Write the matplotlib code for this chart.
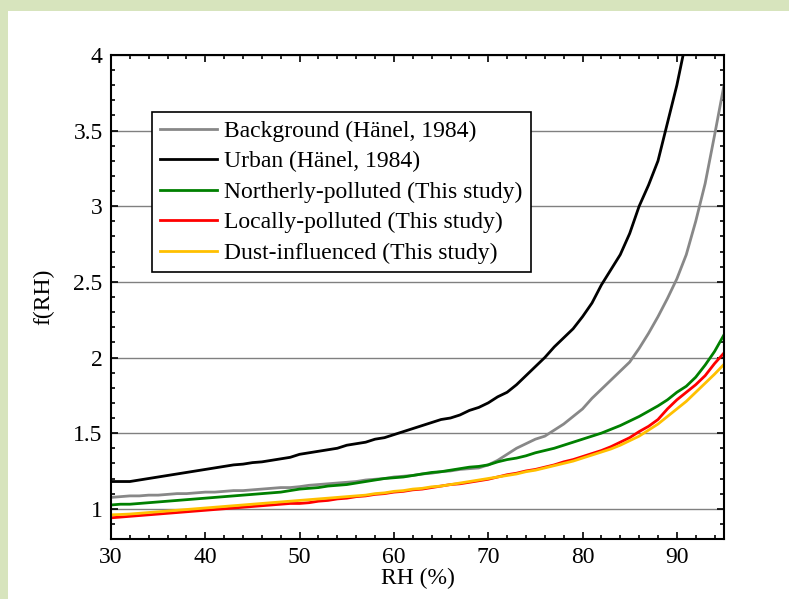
import matplotlib.pyplot as plt
from matplotlib.patches import Rectangle
from matplotlib.ticker import MultipleLocator, FixedLocator, FormatStrFormatter

plt.rcParams['font.family'] = ['Liberation Serif', 'DejaVu Serif']

rh = list(range(30, 96))

background = [1.075, 1.08, 1.085, 1.085, 1.09, 1.09, 1.095, 1.10, 1.10, 1.105,
              1.11, 1.11, 1.115, 1.12, 1.12, 1.125, 1.13, 1.135, 1.14, 1.14,
              1.146, 1.155, 1.16, 1.165, 1.17, 1.175, 1.18, 1.19, 1.195, 1.20,
              1.21, 1.215, 1.22, 1.23, 1.235, 1.245, 1.25, 1.26, 1.265, 1.27,
              1.29, 1.32, 1.36, 1.40, 1.43, 1.46, 1.48, 1.52, 1.56, 1.61,
              1.66, 1.73, 1.79, 1.85, 1.91, 1.97, 2.06, 2.16, 2.27, 2.39,
              2.52, 2.68, 2.90, 3.15, 3.47, 3.80]

urban = [1.18, 1.18, 1.18, 1.19, 1.20, 1.21, 1.22, 1.23, 1.24, 1.25,
         1.26, 1.27, 1.28, 1.29, 1.295, 1.305, 1.31, 1.32, 1.33, 1.34,
         1.36, 1.37, 1.38, 1.39, 1.40, 1.42, 1.43, 1.44, 1.46, 1.47,
         1.49, 1.51, 1.53, 1.55, 1.57, 1.59, 1.60, 1.62, 1.65, 1.67,
         1.70, 1.74, 1.77, 1.82, 1.88, 1.94, 2.00, 2.07, 2.13, 2.19,
         2.27, 2.36, 2.48, 2.58, 2.68, 2.82, 3.00, 3.14, 3.30, 3.55,
         3.80, 4.10]
rh_urban = rh[:len(urban)]

northerly = [1.025, 1.03, 1.03, 1.035, 1.04, 1.045, 1.05, 1.055, 1.06, 1.065,
             1.07, 1.075, 1.08, 1.085, 1.09, 1.095, 1.10, 1.105, 1.11, 1.12,
             1.13, 1.135, 1.14, 1.15, 1.155, 1.16, 1.17, 1.18, 1.19, 1.20,
             1.205, 1.21, 1.22, 1.23, 1.24, 1.245, 1.255, 1.265, 1.275, 1.28,
             1.29, 1.31, 1.325, 1.335, 1.35, 1.37, 1.385, 1.40, 1.42, 1.44,
             1.46, 1.48, 1.50, 1.525, 1.55, 1.58, 1.61, 1.645, 1.68, 1.72,
             1.77, 1.81, 1.87, 1.95, 2.04, 2.15]

locally = [0.94, 0.945, 0.95, 0.955, 0.96, 0.965, 0.97, 0.975, 0.98, 0.985,
           0.99, 0.995, 1.00, 1.005, 1.01, 1.015, 1.02, 1.025, 1.03, 1.035,
           1.035, 1.04, 1.05, 1.055, 1.065, 1.07, 1.08, 1.085, 1.095, 1.10,
           1.11, 1.115, 1.125, 1.13, 1.14, 1.15, 1.16, 1.165, 1.175, 1.185,
           1.195, 1.21, 1.225, 1.235, 1.25, 1.26, 1.275, 1.29, 1.31, 1.325,
           1.345, 1.365, 1.385, 1.41, 1.44, 1.47, 1.51, 1.545, 1.59, 1.66,
           1.72, 1.77, 1.82, 1.88, 1.96, 2.03]

dust = [0.96, 0.962, 0.965, 0.97, 0.975, 0.98, 0.985, 0.99, 0.995, 1.00,
        1.005, 1.01, 1.015, 1.02, 1.025, 1.03, 1.035, 1.04, 1.045, 1.05,
        1.055, 1.06, 1.065, 1.07, 1.075, 1.08, 1.085, 1.09, 1.10, 1.105,
        1.115, 1.12, 1.13, 1.135, 1.145, 1.15, 1.16, 1.17, 1.18, 1.19,
        1.20, 1.21, 1.22, 1.23, 1.245, 1.255, 1.27, 1.285, 1.30, 1.315,
        1.335, 1.355, 1.375, 1.395, 1.42, 1.45, 1.48, 1.52, 1.56, 1.61,
        1.66, 1.71, 1.77, 1.83, 1.89, 1.955]

fig = plt.figure(figsize=(7.89, 5.99), dpi=100, facecolor='#d7e4bd')
# white sheet behind the axes, leaving a green strip on the left and top
fig.patches.append(Rectangle((8 / 789, 0), 1, 1 - 11 / 599, transform=fig.transFigure,
                             facecolor='white', edgecolor='none', zorder=-10))
ax = fig.add_axes([111 / 789, 60 / 599, 613 / 789, 484 / 599])

ax.plot(rh, background, color='#888888', lw=2, label='Background (Hänel, 1984)')
ax.plot(rh_urban, urban, color='black', lw=2, label='Urban (Hänel, 1984)')
ax.plot(rh, northerly, color='#008000', lw=2, label='Northerly-polluted (This study)')
ax.plot(rh, locally, color='#ff0000', lw=2, label='Locally-polluted (This study)')
ax.plot(rh, dust, color='#ffc000', lw=2, label='Dust-influenced (This study)')

ax.set_xlim(30, 95)
ax.set_ylim(0.8, 4)
ax.xaxis.set_major_locator(MultipleLocator(10))
ax.xaxis.set_minor_locator(MultipleLocator(2))
ax.yaxis.set_major_locator(FixedLocator([1, 1.5, 2, 2.5, 3, 3.5, 4]))
ax.yaxis.set_minor_locator(MultipleLocator(0.1))
ax.yaxis.set_major_formatter(FormatStrFormatter('%g'))
ax.tick_params(which='both', direction='in', top=True, right=True, width=1.2,
               labelsize=17, pad=6)
ax.tick_params(which='major', length=5)
ax.tick_params(which='minor', length=3)
for s in ax.spines.values():
    s.set_linewidth(1.5)

ax.yaxis.grid(True, color='#808080', lw=1)
ax.set_axisbelow(True)

ax.set_xlabel('RH (%)', fontsize=17, labelpad=0)
ax.set_ylabel('f(RH)', fontsize=17, labelpad=14)

leg = ax.legend(loc='upper left', bbox_to_anchor=(0.067, 0.882), borderaxespad=0,
                fancybox=False, framealpha=1, edgecolor='black', fontsize=17,
                handlelength=2.4, handletextpad=0.3, labelspacing=0.38,
                borderpad=0.35)
leg.get_frame().set_linewidth(1.2)

fig.savefig('out.png', dpi=100, facecolor=fig.get_facecolor())
